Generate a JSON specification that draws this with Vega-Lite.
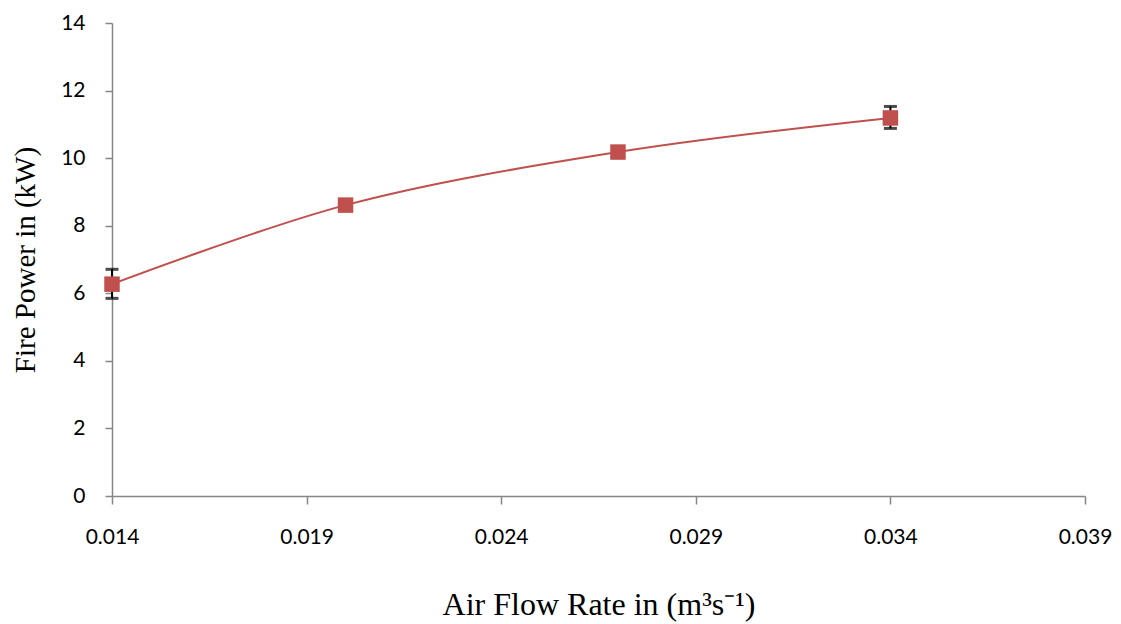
{
  "$schema": "https://vega.github.io/schema/vega-lite/v6.json",
  "autosize": "none",
  "width": 973,
  "height": 473,
  "padding": {"left": 112, "top": 23, "right": 36, "bottom": 128},
  "background": "white",
  "config": {
    "view": {"stroke": null},
    "axis": {
      "grid": false,
      "domainColor": "#868686",
      "tickColor": "#868686",
      "domainWidth": 1.5,
      "tickWidth": 1.5,
      "labelFont": "Lato",
      "labelFontSize": 21,
      "labelColor": "#000000",
      "titleFont": "Liberation Serif",
      "titleFontSize": 29,
      "titleFontWeight": "normal",
      "titleColor": "#000000"
    }
  },
  "data": {
    "values": [
      {"flow": 0.014, "power": 6.27, "lo": 5.85, "hi": 6.71},
      {"flow": 0.020, "power": 8.61, "lo": null, "hi": null},
      {"flow": 0.027, "power": 10.18, "lo": null, "hi": null},
      {"flow": 0.034, "power": 11.19, "lo": 10.88, "hi": 11.53}
    ]
  },
  "encoding": {
    "x": {
      "field": "flow",
      "type": "quantitative",
      "scale": {"domain": [0.014, 0.039], "nice": false, "zero": false},
      "axis": {
        "values": [0.014, 0.019, 0.024, 0.029, 0.034, 0.039],
        "format": ".3f",
        "title": "Air Flow Rate in (m³s⁻¹)",
        "titleFontSize": 32,
        "tickSize": 8,
        "labelPadding": 22,
        "titlePadding": 42,
        "labelFlush": false
      }
    }
  },
  "layer": [
    {
      "mark": {"type": "line", "interpolate": "catmull-rom", "color": "#C0504D", "strokeWidth": 2},
      "encoding": {
        "y": {
          "field": "power",
          "type": "quantitative",
          "scale": {"domain": [0, 14], "nice": false},
          "axis": {
            "values": [0, 2, 4, 6, 8, 10, 12, 14],
            "title": "Fire Power in (kW)",
            "tickSize": 7,
            "labelPadding": 20,
            "titlePadding": 20
          }
        }
      }
    },
    {
      "transform": [{"filter": "datum.lo != null"}],
      "mark": {"type": "rule", "color": "#000000", "strokeWidth": 2},
      "encoding": {
        "y": {"field": "lo", "type": "quantitative"},
        "y2": {"field": "hi"}
      }
    },
    {
      "transform": [{"filter": "datum.lo != null"}],
      "mark": {"type": "tick", "orient": "horizontal", "color": "#000000", "size": 13, "thickness": 3},
      "encoding": {"y": {"field": "lo", "type": "quantitative"}}
    },
    {
      "transform": [{"filter": "datum.lo != null"}],
      "mark": {"type": "tick", "orient": "horizontal", "color": "#000000", "size": 13, "thickness": 3},
      "encoding": {"y": {"field": "hi", "type": "quantitative"}}
    },
    {
      "mark": {"type": "square", "color": "#C0504D", "opacity": 1, "size": 240},
      "encoding": {"y": {"field": "power", "type": "quantitative"}}
    }
  ]
}
